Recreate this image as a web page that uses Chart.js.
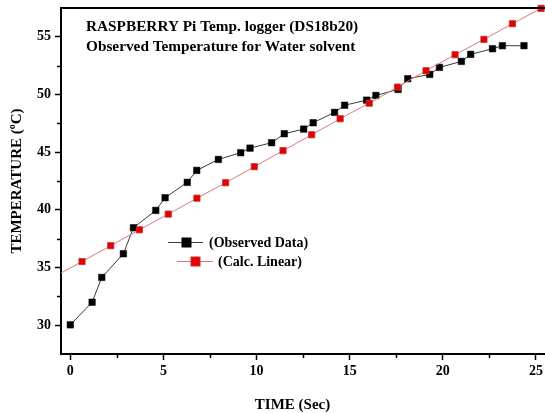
<!DOCTYPE html>
<html>
<head>
<meta charset="utf-8">
<script src="https://cdn.jsdelivr.net/npm/chart.js@4/dist/chart.umd.min.js"></script>
<style>
  html, body { margin: 0; padding: 0; background: #fff; overflow: hidden; }
  #wrap { width: 545px; height: 413px; position: relative; }
</style>
</head>
<body>
<div id="wrap"><canvas id="c" width="545" height="413"></canvas></div>
<script>
// ---- data ----
const timeObserved = [0, 1.17, 1.69, 2.85, 3.39, 4.59, 5.09, 6.28, 6.79, 7.95, 9.15, 9.65, 10.81, 11.49, 12.53, 13.04, 14.19, 14.73, 15.91, 16.41, 17.6, 18.12, 19.3, 19.82, 21.0, 21.5, 22.67, 23.2, 24.36];
const tempObserved = [30.03, 31.99, 34.14, 36.19, 38.45, 39.95, 41.05, 42.38, 43.42, 44.37, 44.95, 45.35, 45.82, 46.60, 47.00, 47.55, 48.45, 49.07, 49.51, 49.92, 50.44, 51.37, 51.74, 52.35, 52.87, 53.48, 53.97, 54.23, 54.23];
// first entry is where the fitted line enters the plot (no marker there)
const timeCalc = [-0.5, 0.63, 2.17, 3.71, 5.26, 6.8, 8.34, 9.88, 11.42, 12.96, 14.49, 16.05, 17.57, 19.1, 20.66, 22.21, 23.74, 25.28];
const tempCalc = [34.52, 35.52, 36.89, 38.27, 39.63, 41.01, 42.35, 43.74, 45.13, 46.51, 47.90, 49.25, 50.64, 52.06, 53.45, 54.78, 56.14, 57.47];
const xTickValues = [0, 5, 10, 15, 20, 25];
const yTickValues = [30, 35, 40, 45, 50, 55];
const xMinorTicks = [2.5, 7.5, 12.5, 17.5, 22.5];
const yMinorTicks = [32.5, 37.5, 42.5, 47.5, 52.5];
const titleLines = ["RASPBERRY Pi Temp. logger (DS18b20)", "Observed Temperature for Water solvent"];
const seriesNames = ["(Observed Data)", "(Calc. Linear)"];
const xTitle = "TIME (Sec)";
const yTitleMain = "TEMPERATURE (";
const yTitleSup = "o";
const yTitleEnd = "C)";

const FONT = "'Liberation Serif', 'Times New Roman', serif";
const BLACK_FILL = '#000000';
const RED_FILL = '#e40000';
const RED_EDGE = '#c83030';
const BLACK_LINE = '#3a3a3a';
const RED_LINE = '#e07878';

const decor = {
  id: 'decor',
  afterDraw(chart) {
    const ctx = chart.ctx;
    const a = chart.chartArea;
    const W = chart.width;
    const xs = chart.scales.x, ys = chart.scales.y;
    ctx.save();
    // top frame line and continuation of the x axis to the page edge
    ctx.strokeStyle = '#000';
    ctx.lineWidth = 2;
    ctx.beginPath();
    ctx.moveTo(a.left - 1, a.top);
    ctx.lineTo(W, a.top);
    ctx.moveTo(a.right - 1, a.bottom);
    ctx.lineTo(W, a.bottom);
    ctx.stroke();
    // minor ticks
    ctx.lineWidth = 1.5;
    ctx.beginPath();
    xMinorTicks.forEach(v => {
      const px = Math.round(xs.getPixelForValue(v)) + 0.5;
      ctx.moveTo(px, a.bottom);
      ctx.lineTo(px, a.bottom + 4);
    });
    yMinorTicks.forEach(v => {
      const py = Math.round(ys.getPixelForValue(v)) + 0.5;
      ctx.moveTo(a.left, py);
      ctx.lineTo(a.left - 4, py);
    });
    ctx.stroke();

    // in-plot title
    ctx.fillStyle = '#000';
    ctx.font = "bold 15.3px " + FONT;
    ctx.textBaseline = 'middle';
    ctx.textAlign = 'left';
    ctx.fillText(titleLines[0], 86, 27);
    ctx.fillText(titleLines[1], 86, 47);

    // legend
    const entries = [
      {x0: 168, x1: 203, mx: 186.5, y: 242, tx: 209, line: BLACK_LINE, fill: BLACK_FILL, edge: BLACK_FILL},
      {x0: 177, x1: 213, mx: 195.5, y: 261, tx: 218, line: RED_LINE, fill: RED_FILL, edge: RED_EDGE}
    ];
    ctx.font = "bold 14px " + FONT;
    entries.forEach((e, i) => {
      ctx.strokeStyle = e.line;
      ctx.lineWidth = 1;
      ctx.beginPath();
      ctx.moveTo(e.x0, e.y + 0.5);
      ctx.lineTo(e.x1, e.y + 0.5);
      ctx.stroke();
      ctx.fillStyle = e.fill;
      ctx.fillRect(e.mx - 4.5, e.y - 4, 9, 9);
      ctx.strokeStyle = e.edge;
      ctx.strokeRect(e.mx - 4.5, e.y - 4, 9, 9);
      ctx.fillStyle = '#000';
      ctx.fillText(seriesNames[i], e.tx, e.y + 1);
    });

    // x axis title
    ctx.font = "bold 15px " + FONT;
    ctx.textAlign = 'center';
    ctx.fillText(xTitle, 292.5, 405);

    // y axis title with superscript
    ctx.translate(17, 181);
    ctx.rotate(-Math.PI / 2);
    ctx.textAlign = 'left';
    const fMain = "bold 15px " + FONT, fSup = "bold 10px " + FONT;
    ctx.font = fMain;
    const w1 = ctx.measureText(yTitleMain).width;
    const w3 = ctx.measureText(yTitleEnd).width;
    ctx.font = fSup;
    const w2 = ctx.measureText(yTitleSup).width;
    let x = -(w1 + w2 + w3) / 2;
    ctx.font = fMain;
    ctx.fillText(yTitleMain, x, 0);
    x += w1;
    ctx.font = fSup;
    ctx.fillText(yTitleSup, x, -5);
    x += w2;
    ctx.font = fMain;
    ctx.fillText(yTitleEnd, x, 0);
    ctx.restore();
  }
};

new Chart(document.getElementById('c'), {
  type: 'line',
  data: {
    datasets: [
      {
        label: seriesNames[1],
        data: timeCalc.map((t, i) => ({x: t, y: tempCalc[i]})),
        borderColor: RED_LINE,
        borderWidth: 1,
        backgroundColor: RED_FILL,
        pointStyle: 'rect',
        pointRadius: ctx => ctx.dataIndex === 0 ? 0 : 4.4,
        pointBorderColor: RED_EDGE,
        pointBorderWidth: 0.8,
        pointBackgroundColor: RED_FILL,
        tension: 0,
        clip: false
      },
      {
        label: seriesNames[0],
        data: timeObserved.map((t, i) => ({x: t, y: tempObserved[i]})),
        borderColor: BLACK_LINE,
        borderWidth: 1,
        backgroundColor: BLACK_FILL,
        pointStyle: 'rect',
        pointRadius: 4.6,
        pointBorderColor: BLACK_FILL,
        pointBorderWidth: 0.5,
        pointBackgroundColor: BLACK_FILL,
        tension: 0,
        clip: false
      }
    ]
  },
  options: {
    responsive: false,
    animation: false,
    devicePixelRatio: 1,
    layout: { padding: { top: 8, right: 0, left: 0, bottom: 0 } },
    plugins: { legend: { display: false }, tooltip: { enabled: false }, title: { display: false } },
    scales: {
      x: {
        type: 'linear',
        min: -0.5,
        max: 25.21,
        afterBuildTicks: s => { s.ticks = xTickValues.map(v => ({value: v})); },
        afterFit: s => { s.height = 59; s.paddingLeft = 0; s.paddingRight = 0; },
        ticks: {
          color: '#000',
          font: { family: FONT, size: 14, weight: 'bold' },
          padding: 3,
          maxRotation: 0,
          autoSkip: false
        },
        grid: { drawOnChartArea: false, drawTicks: true, tickLength: 6, tickColor: '#000', tickWidth: 1.5 },
        border: { display: true, color: '#000', width: 2 }
      },
      y: {
        type: 'linear',
        min: 27.5,
        max: 57.5,
        afterBuildTicks: s => { s.ticks = yTickValues.map(v => ({value: v})); },
        afterFit: s => { s.width = 61; s.paddingTop = 0; s.paddingBottom = 0; },
        ticks: {
          color: '#000',
          font: { family: FONT, size: 14, weight: 'bold' },
          padding: 4,
          autoSkip: false
        },
        grid: { drawOnChartArea: false, drawTicks: true, tickLength: 6, tickColor: '#000', tickWidth: 1.5 },
        border: { display: true, color: '#000', width: 2 }
      }
    }
  },
  plugins: [decor]
});
</script>
</body>
</html>
